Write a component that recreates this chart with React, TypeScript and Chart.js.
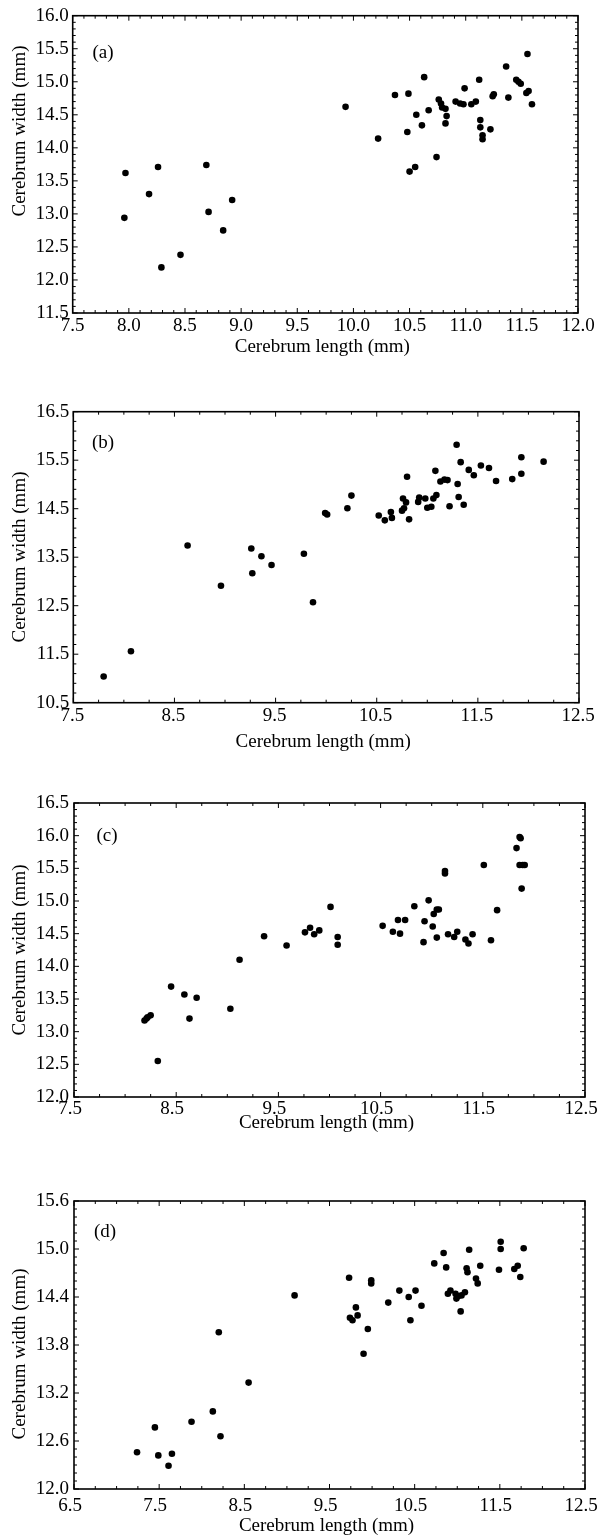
import React, { useEffect, useRef } from "react";
import { Chart, registerables } from "chart.js";
Chart.register(...registerables);

// ---------- Panel (a) ----------
const lengthA = [7.97, 7.96, 8.18, 8.26, 8.29, 8.46, 8.69, 8.71, 8.84, 8.92, 9.93, 10.22, 10.37, 10.49, 10.63, 10.48, 10.56, 10.61, 10.67, 10.5, 10.55, 10.74, 10.76, 10.78, 10.79, 10.82, 10.83, 10.82, 10.91, 10.95, 10.98, 10.99, 11.05, 11.09, 11.12, 11.13, 11.13, 11.15, 11.15, 11.22, 11.24, 11.25, 11.36, 11.38, 11.45, 11.47, 11.49, 11.55, 11.54, 11.56, 11.59];
const widthA = [13.62, 12.94, 13.3, 13.71, 12.19, 12.38, 13.74, 13.03, 12.75, 13.21, 14.62, 14.14, 14.8, 14.82, 15.07, 14.24, 14.5, 14.34, 14.57, 13.64, 13.71, 13.86, 14.73, 14.67, 14.61, 14.59, 14.48, 14.37, 14.7, 14.67, 14.66, 14.9, 14.66, 14.7, 15.03, 14.42, 14.31, 14.19, 14.13, 14.28, 14.78, 14.81, 15.23, 14.76, 15.03, 15.0, 14.97, 15.42, 14.83, 14.86, 14.66];
const xTicksA = [7.5, 8.0, 8.5, 9.0, 9.5, 10.0, 10.5, 11.0, 11.5, 12.0];
const yTicksA = [11.5, 12.0, 12.5, 13.0, 13.5, 14.0, 14.5, 15.0, 15.5, 16.0];

// ---------- Panel (b) ----------
const lengthB = [7.8, 8.07, 8.63, 8.96, 9.26, 9.27, 9.36, 9.46, 9.78, 9.87, 9.99, 10.01, 10.21, 10.25, 10.52, 10.58, 10.64, 10.65, 10.75, 10.77, 10.76, 10.79, 10.8, 10.82, 10.91, 10.92, 10.98, 11.0, 11.04, 11.06, 11.09, 11.08, 11.13, 11.17, 11.2, 11.22, 11.29, 11.3, 11.31, 11.33, 11.36, 11.41, 11.46, 11.53, 11.61, 11.68, 11.84, 11.93, 11.93, 12.15];
const widthB = [11.04, 11.56, 13.74, 12.91, 13.68, 13.17, 13.52, 13.34, 13.57, 12.57, 14.41, 14.38, 14.51, 14.77, 14.36, 14.26, 14.43, 14.31, 14.46, 14.51, 14.71, 14.63, 15.16, 14.28, 14.64, 14.73, 14.71, 14.52, 14.54, 14.71, 14.78, 15.28, 15.06, 15.1, 15.09, 14.55, 15.82, 15.01, 14.74, 15.46, 14.58, 15.3, 15.19, 15.39, 15.34, 15.07, 15.11, 15.22, 15.56, 15.47];
const xTicksB = [7.5, 8.5, 9.5, 10.5, 11.5, 12.5];
const yTicksB = [10.5, 11.5, 12.5, 13.5, 14.5, 15.5, 16.5];

// ---------- Panel (c) ----------
const lengthC = [8.19, 8.21, 8.22, 8.25, 8.32, 8.45, 8.58, 8.63, 8.7, 9.03, 9.12, 9.36, 9.58, 9.76, 9.81, 9.85, 9.9, 10.01, 10.08, 10.08, 10.52, 10.62, 10.67, 10.69, 10.74, 10.83, 10.92, 10.93, 10.97, 11.01, 11.02, 11.05, 11.07, 11.05, 11.13, 11.13, 11.16, 11.22, 11.25, 11.33, 11.36, 11.4, 11.51, 11.58, 11.64, 11.83, 11.86, 11.87, 11.86, 11.89, 11.91, 11.88];
const widthC = [13.17, 13.2, 13.22, 13.25, 12.55, 13.69, 13.57, 13.2, 13.52, 13.35, 14.1, 14.46, 14.32, 14.52, 14.59, 14.49, 14.55, 14.91, 14.45, 14.33, 14.62, 14.53, 14.71, 14.5, 14.71, 14.92, 14.37, 14.69, 15.01, 14.61, 14.8, 14.87, 14.87, 14.44, 15.46, 15.42, 14.49, 14.45, 14.53, 14.41, 14.35, 14.49, 15.55, 14.4, 14.86, 15.81, 15.98, 15.96, 15.55, 15.55, 15.55, 15.19];
const xTicksC = [7.5, 8.5, 9.5, 10.5, 11.5, 12.5];
const yTicksC = [12.0, 12.5, 13.0, 13.5, 14.0, 14.5, 15.0, 15.5, 16.0, 16.5];

// ---------- Panel (d) ----------
const lengthD = [7.24, 7.45, 7.49, 7.61, 7.65, 7.88, 8.13, 8.2, 8.22, 8.55, 9.09, 9.73, 9.74, 9.77, 9.81, 9.83, 9.9, 9.95, 9.99, 9.99, 10.19, 10.32, 10.43, 10.45, 10.51, 10.58, 10.73, 10.84, 10.87, 10.89, 10.92, 10.98, 10.99, 11.01, 11.04, 11.05, 11.09, 11.11, 11.12, 11.14, 11.22, 11.24, 11.27, 11.49, 11.51, 11.51, 11.67, 11.71, 11.74, 11.78];
const widthD = [12.46, 12.77, 12.42, 12.29, 12.44, 12.84, 12.97, 13.96, 12.66, 13.33, 14.42, 14.64, 14.14, 14.11, 14.27, 14.17, 13.69, 14.0, 14.57, 14.61, 14.33, 14.48, 14.4, 14.11, 14.48, 14.29, 14.82, 14.95, 14.77, 14.44, 14.48, 14.44, 14.38, 14.41, 14.22, 14.42, 14.46, 14.76, 14.71, 14.99, 14.63, 14.57, 14.79, 14.74, 15.09, 15.0, 14.75, 14.79, 14.65, 15.01];
const xTicksD = [6.5, 7.5, 8.5, 9.5, 10.5, 11.5, 12.5];
const yTicksD = [12.0, 12.6, 13.2, 13.8, 14.4, 15.0, 15.6];

const panelLabels = ["(a)", "(b)", "(c)", "(d)"];
const xTitle = "Cerebrum length (mm)";
const yTitle = "Cerebrum width (mm)";

const FONT = '"Liberation Serif", "Times New Roman", serif';
const PAGE_W = 598;

type Box = { l: number; r: number; t: number; b: number };
type PanelCfg = {
  label: string;
  xs: number[];
  ys: number[];
  xTicks: number[];
  yTicks: number[];
  xMinor: number;
  yMinor: number;
  top: number;
  height: number;
  box: Box;
  xPad: number;
  yPad: number;
  xLabelOffset: number;
  labelPos: [number, number];
  xTitleY: number;
  yTitlePos: [number, number];
};

const panels: PanelCfg[] = [
  {
    label: panelLabels[0], xs: lengthA, ys: widthA, xTicks: xTicksA, yTicks: yTicksA,
    xMinor: 0.1, yMinor: 0.1, top: 0, height: 360,
    box: { l: 72.7, r: 578, t: 15.7, b: 313 }, xPad: 2, yPad: 4, xLabelOffset: 0,
    labelPos: [103, 53], xTitleY: 352, yTitlePos: [20, 131],
  },
  {
    label: panelLabels[1], xs: lengthB, ys: widthB, xTicks: xTicksB, yTicks: yTicksB,
    xMinor: 0.25, yMinor: 0.2, top: 360, height: 395,
    box: { l: 73.3, r: 579, t: 411.7, b: 702.7 }, xPad: 2, yPad: 4, xLabelOffset: -1,
    labelPos: [103, 443], xTitleY: 747, yTitlePos: [20, 557],
  },
  {
    label: panelLabels[2], xs: lengthC, ys: widthC, xTicks: xTicksC, yTicks: yTicksC,
    xMinor: 0.25, yMinor: 0.1, top: 755, height: 380,
    box: { l: 74, r: 585, t: 803, b: 1097 }, xPad: 1, yPad: 5, xLabelOffset: -4,
    labelPos: [107, 836], xTitleY: 1128, yTitlePos: [20, 950],
  },
  {
    label: panelLabels[3], xs: lengthD, ys: widthD, xTicks: xTicksD, yTicks: yTicksD,
    xMinor: 0.25, yMinor: 0.1, top: 1135, height: 402,
    box: { l: 74, r: 585, t: 1201, b: 1489 }, xPad: 6, yPad: 5, xLabelOffset: -4,
    labelPos: [105, 1232], xTitleY: 1531, yTitlePos: [20, 1354],
  },
];

function makeFramePlugin(p: PanelCfg) {
  return {
    id: "frameAndTitles",
    afterDraw(chart: any) {
      const { ctx, chartArea: a, scales } = chart;
      const xs = scales.x;
      const ys = scales.y;
      ctx.save();
      ctx.strokeStyle = "#000";
      ctx.fillStyle = "#000";
      // frame
      ctx.lineWidth = 1.6;
      ctx.strokeRect(a.left, a.top, a.right - a.left, a.bottom - a.top);
      // ticks
      ctx.lineWidth = 1;
      const isMajor = (v: number, arr: number[]) => arr.some((t) => Math.abs(t - v) < 1e-6);
      const xMin = p.xTicks[0], xMax = p.xTicks[p.xTicks.length - 1];
      for (let i = 0; ; i++) {
        const v = xMin + i * p.xMinor;
        if (v > xMax + 1e-6) break;
        const px = xs.getPixelForValue(v);
        const len = isMajor(v, p.xTicks) ? 5 : 3;
        ctx.beginPath();
        ctx.moveTo(px, a.bottom);
        ctx.lineTo(px, a.bottom - len);
        ctx.moveTo(px, a.top);
        ctx.lineTo(px, a.top + len);
        ctx.stroke();
      }
      const yMin = p.yTicks[0], yMax = p.yTicks[p.yTicks.length - 1];
      for (let i = 0; ; i++) {
        const v = yMin + i * p.yMinor;
        if (v > yMax + 1e-6) break;
        const py = ys.getPixelForValue(v);
        const len = isMajor(v, p.yTicks) ? 5 : 3;
        ctx.beginPath();
        ctx.moveTo(a.left, py);
        ctx.lineTo(a.left + len, py);
        ctx.moveTo(a.right, py);
        ctx.lineTo(a.right - len, py);
        ctx.stroke();
      }
      // panel label
      ctx.font = `19px ${FONT}`;
      ctx.textAlign = "center";
      ctx.textBaseline = "middle";
      ctx.fillText(p.label, p.labelPos[0], p.labelPos[1] - p.top);
      // x title
      ctx.textBaseline = "alphabetic";
      ctx.fillText(xTitle, (a.left + a.right) / 2 - 3, p.xTitleY - p.top);
      // y title
      ctx.translate(p.yTitlePos[0], p.yTitlePos[1] - p.top);
      ctx.rotate(-Math.PI / 2);
      ctx.textBaseline = "middle";
      ctx.fillText(yTitle, 0, 0);
      ctx.restore();
    },
  };
}

function PanelChart({ p }: { p: PanelCfg }) {
  const ref = useRef<HTMLCanvasElement | null>(null);
  useEffect(() => {
    if (!ref.current) return;
    const bottom = p.top + p.height;
    const chart = new Chart(ref.current, {
      type: "scatter",
      data: {
        datasets: [
          {
            data: p.xs.map((x, i) => ({ x, y: p.ys[i] })),
            backgroundColor: "#000",
            borderWidth: 0,
            pointRadius: 3.3,
          },
        ],
      },
      options: {
        animation: false,
        responsive: false,
        events: [],
        layout: {
          padding: { top: p.box.t - p.top, right: PAGE_W - p.box.r, left: 0, bottom: 0 },
        },
        plugins: { legend: { display: false }, tooltip: { enabled: false } },
        scales: {
          x: {
            type: "linear",
            min: p.xTicks[0],
            max: p.xTicks[p.xTicks.length - 1],
            afterBuildTicks: (s: any) => {
              s.ticks = p.xTicks.map((v) => ({ value: v }));
            },
            afterFit: (s: any) => {
              s.height = bottom - p.box.b;
              s.paddingLeft = 0;
              s.paddingRight = 0;
            },
            grid: { display: false, drawTicks: false },
            border: { display: false },
            ticks: {
              autoSkip: false,
              maxRotation: 0,
              padding: p.xPad,
              labelOffset: p.xLabelOffset,
              color: "#000",
              font: { family: FONT, size: 19 },
              callback: (v: any) => Number(v).toFixed(1),
            },
          },
          y: {
            type: "linear",
            min: p.yTicks[0],
            max: p.yTicks[p.yTicks.length - 1],
            afterBuildTicks: (s: any) => {
              s.ticks = p.yTicks.map((v) => ({ value: v }));
            },
            afterFit: (s: any) => {
              s.width = p.box.l;
              s.paddingTop = 0;
              s.paddingBottom = 0;
            },
            grid: { display: false, drawTicks: false },
            border: { display: false },
            ticks: {
              autoSkip: false,
              padding: p.yPad,
              color: "#000",
              font: { family: FONT, size: 19 },
              callback: (v: any) => Number(v).toFixed(1),
            },
          },
        },
      },
      plugins: [makeFramePlugin(p)],
    } as any);
    return () => chart.destroy();
  }, [p]);
  return (
    <canvas
      ref={ref}
      width={PAGE_W}
      height={p.height}
      style={{ position: "absolute", left: 0, top: p.top, width: PAGE_W, height: p.height, display: "block" }}
    />
  );
}

export default function App() {
  return (
    <div style={{ position: "absolute", left: 0, top: 0, width: PAGE_W, height: 1537, background: "#fff" }}>
      {panels.map((p) => (
        <PanelChart key={p.label} p={p} />
      ))}
    </div>
  );
}
